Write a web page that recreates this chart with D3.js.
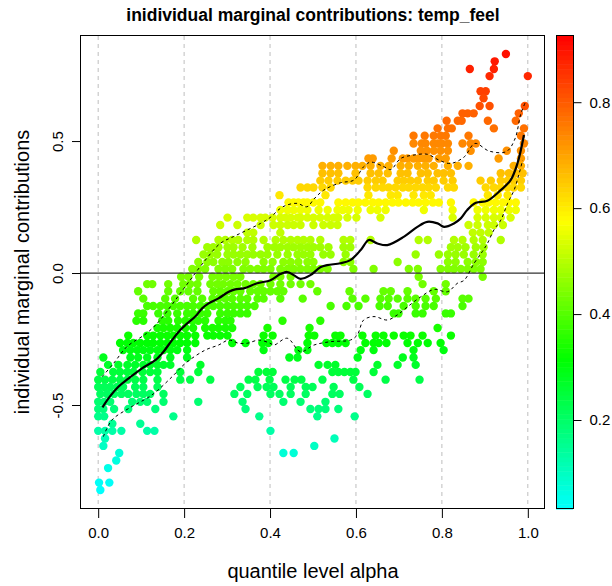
<!DOCTYPE html>
<html>
<head>
<meta charset="utf-8">
<script src="https://d3js.org/d3.v7.min.js"></script>
<style>
body { margin: 0; background: #fff; }
svg { display: block; }
text { font-family: "Liberation Sans", Arial, sans-serif; }
</style>
</head>
<body>
<div id="chart-area"></div>
<script>
// tick labels
var xTicks = [0, 0.2, 0.4, 0.6, 0.8, 1.0];
var yTicks = [-0.5, 0, 0.5];
var colorTicks = [0.2, 0.4, 0.6, 0.8];

// scatter, one entry per contribution level: value, temp_feel, alphas
var rowContrib = [0.830, 0.802, 0.773, 0.746, 0.689, 0.662, 0.633, 0.605, 0.577, 0.548,
	0.520, 0.491, 0.463, 0.434, 0.406, 0.378, 0.350, 0.324, 0.295, 0.267,
	0.239, 0.210, 0.182, 0.153, 0.125, 0.098, 0.070, 0.042, 0.015, -0.014,
	-0.042, -0.069, -0.097, -0.125, -0.153, -0.181, -0.208, -0.237, -0.265, -0.292,
	-0.320, -0.348, -0.375, -0.404, -0.432, -0.458, -0.488, -0.515, -0.543, -0.571,
	-0.598, -0.627, -0.655, -0.682, -0.710, -0.739, -0.794, -0.822];

var rowTemp = [0.903, 0.892, 0.880, 0.870, 0.837, 0.826, 0.815, 0.793, 0.782, 0.771,
	0.760, 0.738, 0.727, 0.711, 0.683, 0.662, 0.645, 0.628, 0.606, 0.583,
	0.560, 0.535, 0.523, 0.511, 0.495, 0.478, 0.470, 0.458, 0.445, 0.437,
	0.429, 0.417, 0.405, 0.388, 0.372, 0.356, 0.339, 0.325, 0.312, 0.298,
	0.284, 0.268, 0.252, 0.236, 0.219, 0.208, 0.191, 0.180, 0.162, 0.150,
	0.130, 0.110, 0.098, 0.078, 0.068, 0.058, 0.040, 0.035];

var rowAlpha = [
	[0.949],
	[0.923],
	[0.865, 0.921],
	[0.911, 1.000],
	[0.890, 0.902],
	[0.897],
	[0.888, 0.911, 0.993],
	[0.848, 0.860, 0.874, 0.979],
	[0.811, 0.837, 0.846, 0.907, 0.972],
	[0.790, 0.814, 0.823, 0.921, 0.991],
	[0.734, 0.760, 0.781, 0.797, 0.809, 0.862, 0.984],
	[0.734, 0.753, 0.762, 0.781, 0.790, 0.800, 0.814, 0.848, 0.867, 0.879, 0.991],
	[0.688, 0.751, 0.765, 0.781, 0.797, 0.814, 0.867, 0.951, 0.984],
	[0.629, 0.639, 0.683, 0.709, 0.720, 0.734, 0.746, 0.758, 0.769, 0.793, 0.809, 0.932, 0.984],
	[0.522, 0.541, 0.559, 0.580, 0.599, 0.615, 0.634, 0.657, 0.676, 0.704, 0.723, 0.744, 0.762, 0.781, 0.814, 0.837, 0.862, 0.967, 0.984],
	[0.522, 0.541, 0.559, 0.599, 0.634, 0.653, 0.674, 0.704, 0.720, 0.751, 0.767, 0.790, 0.804, 0.821, 0.937, 0.956, 0.972, 0.988],
	[0.517, 0.536, 0.557, 0.576, 0.592, 0.606, 0.627, 0.646, 0.662, 0.697, 0.711, 0.727, 0.744, 0.767, 0.781, 0.804, 0.825, 0.890, 0.914, 0.937, 0.953, 0.967, 0.984],
	[0.471, 0.487, 0.501, 0.522, 0.541, 0.627, 0.646, 0.662, 0.676, 0.692, 0.709, 0.723, 0.739, 0.755, 0.769, 0.786, 0.814, 0.828, 0.902, 0.921, 0.937, 0.953, 0.967, 0.984],
	[0.422, 0.529, 0.629, 0.681, 0.697, 0.734, 0.758, 0.774, 0.907, 0.930, 0.953],
	[0.443, 0.455, 0.466, 0.478, 0.487, 0.501, 0.517, 0.559, 0.576, 0.592, 0.606, 0.622, 0.639, 0.653, 0.669, 0.685, 0.699, 0.716, 0.732, 0.746, 0.762, 0.779, 0.793, 0.821, 0.874, 0.895, 0.909, 0.925, 0.942, 0.956, 0.972],
	[0.424, 0.441, 0.455, 0.471, 0.487, 0.513, 0.534, 0.557, 0.569, 0.583, 0.604, 0.634, 0.650, 0.669, 0.758, 0.825, 0.883, 0.902, 0.921, 0.937, 0.956, 0.972],
	[0.301, 0.347, 0.361, 0.378, 0.389, 0.406, 0.424, 0.436, 0.448, 0.464, 0.471, 0.487, 0.501, 0.517, 0.534, 0.548, 0.559, 0.580, 0.601, 0.657, 0.825, 0.883, 0.902, 0.921, 0.937, 0.960],
	[0.284, 0.324, 0.378, 0.408, 0.424, 0.441, 0.455, 0.471, 0.501, 0.524, 0.541, 0.557, 0.862, 0.883, 0.907, 0.921, 0.942],
	[0.347, 0.361, 0.424, 0.872, 0.890, 0.909],
	[0.228, 0.280, 0.296, 0.312, 0.326, 0.347, 0.361, 0.385, 0.413, 0.431, 0.448, 0.464, 0.478, 0.494, 0.517, 0.571, 0.587, 0.634, 0.746, 0.767, 0.828, 0.848, 0.874, 0.895, 0.937],
	[0.254, 0.268, 0.280, 0.301, 0.315, 0.336, 0.359, 0.394, 0.410, 0.424, 0.441, 0.455, 0.471, 0.487, 0.501, 0.517, 0.536, 0.571, 0.587, 0.821, 0.837, 0.855, 0.879, 0.897],
	[0.245, 0.261, 0.277, 0.301, 0.315, 0.331, 0.347, 0.361, 0.378, 0.394, 0.417, 0.441, 0.464, 0.478, 0.494, 0.524, 0.541, 0.576, 0.739, 0.793, 0.814, 0.832, 0.851, 0.874, 0.895],
	[0.233, 0.254, 0.268, 0.289, 0.303, 0.324, 0.343, 0.385, 0.406, 0.431, 0.448, 0.466, 0.487, 0.501, 0.571, 0.587, 0.697, 0.814, 0.832, 0.860, 0.879, 0.895],
	[0.219, 0.233, 0.249, 0.280, 0.296, 0.312, 0.338, 0.354, 0.371, 0.385, 0.401, 0.424, 0.441, 0.455, 0.471, 0.487, 0.501, 0.517, 0.534, 0.594, 0.641, 0.723, 0.744, 0.797, 0.814, 0.828, 0.844, 0.860, 0.874, 0.890],
	[0.193, 0.210, 0.235, 0.266, 0.282, 0.298, 0.315, 0.331, 0.408, 0.424, 0.448, 0.746, 0.895],
	[0.114, 0.126, 0.163, 0.198, 0.214, 0.231, 0.261, 0.277, 0.291, 0.308, 0.324, 0.343, 0.361, 0.378, 0.401, 0.424, 0.448, 0.471, 0.494, 0.755, 0.809],
	[0.093, 0.163, 0.191, 0.210, 0.231, 0.268, 0.284, 0.301, 0.315, 0.331, 0.354, 0.371, 0.385, 0.401, 0.417, 0.431, 0.510, 0.585, 0.664, 0.681, 0.720, 0.781, 0.809],
	[0.105, 0.156, 0.179, 0.221, 0.242, 0.266, 0.280, 0.296, 0.312, 0.331, 0.347, 0.371, 0.385, 0.424, 0.476, 0.592, 0.622, 0.657, 0.676, 0.697, 0.720, 0.739, 0.762, 0.786, 0.848, 0.862],
	[0.114, 0.128, 0.145, 0.161, 0.175, 0.191, 0.207, 0.221, 0.238, 0.254, 0.268, 0.284, 0.301, 0.315, 0.331, 0.347, 0.364, 0.541, 0.578, 0.606, 0.655, 0.674, 0.711, 0.739, 0.762, 0.781, 0.848],
	[0.093, 0.105, 0.140, 0.161, 0.184, 0.207, 0.221, 0.238, 0.254, 0.284, 0.301, 0.315, 0.331, 0.347, 0.688, 0.699, 0.739, 0.755, 0.809, 0.821],
	[0.089, 0.105, 0.149, 0.163, 0.186, 0.203, 0.219, 0.233, 0.249, 0.280, 0.296, 0.308, 0.429, 0.517],
	[0.138, 0.152, 0.168, 0.184, 0.203, 0.221, 0.249, 0.266, 0.280, 0.296, 0.312, 0.394, 0.492, 0.790],
	[0.070, 0.114, 0.128, 0.145, 0.161, 0.175, 0.191, 0.207, 0.226, 0.254, 0.268, 0.284, 0.301, 0.385, 0.406, 0.490, 0.503, 0.552, 0.564, 0.615, 0.646, 0.664, 0.688, 0.711, 0.727, 0.755, 0.821],
	[0.051, 0.068, 0.082, 0.098, 0.114, 0.128, 0.145, 0.161, 0.175, 0.191, 0.207, 0.226, 0.312, 0.343, 0.382, 0.396, 0.487, 0.531, 0.545, 0.559, 0.576, 0.622, 0.641, 0.653, 0.671, 0.720, 0.744, 0.767, 0.797],
	[0.058, 0.075, 0.091, 0.105, 0.121, 0.138, 0.152, 0.168, 0.184, 0.207, 0.385, 0.466, 0.487, 0.611, 0.641, 0.734, 0.804],
	[0.012, 0.075, 0.093, 0.114, 0.138, 0.168, 0.207, 0.445, 0.464, 0.604, 0.709, 0.734],
	[0.023, 0.047, 0.068, 0.086, 0.105, 0.121, 0.138, 0.152, 0.168, 0.238, 0.513, 0.534, 0.552, 0.650, 0.697, 0.739],
	[0.005, 0.035, 0.051, 0.068, 0.082, 0.103, 0.121, 0.138, 0.191, 0.233, 0.373, 0.392, 0.406, 0.545, 0.559, 0.573, 0.587, 0.599, 0.641],
	[0.000, 0.016, 0.033, 0.051, 0.068, 0.086, 0.105, 0.138, 0.191, 0.214, 0.261, 0.350, 0.366, 0.399, 0.436, 0.457, 0.473, 0.522, 0.594, 0.669, 0.748],
	[0.000, 0.014, 0.028, 0.044, 0.058, 0.086, 0.105, 0.138, 0.331, 0.371, 0.392, 0.408, 0.448, 0.483, 0.499, 0.548, 0.608],
	[0.005, 0.021, 0.037, 0.054, 0.070, 0.089, 0.105, 0.121, 0.152, 0.317, 0.347, 0.401, 0.422, 0.448, 0.483, 0.545, 0.562, 0.627],
	[0.000, 0.014, 0.028, 0.079, 0.098, 0.114, 0.152, 0.233, 0.336, 0.431, 0.471, 0.529],
	[0.000, 0.012, 0.037, 0.070, 0.133, 0.343, 0.494, 0.513, 0.529, 0.559],
	[0.000, 0.014, 0.175, 0.375, 0.510, 0.597],
	[0.033, 0.098],
	[0.000, 0.016, 0.033, 0.054, 0.114, 0.131, 0.401],
	[0.016, 0.550],
	[0.012, 0.503],
	[0.049, 0.431, 0.455],
	[0.042],
	[0.023],
	[0.002, 0.026],
	[0.005]
];

// smoothed mean and the two band lines
var meanAlpha = [0.010, 0.024, 0.047, 0.071, 0.102, 0.133, 0.152, 0.172, 0.191, 0.203,
	0.226, 0.242, 0.257, 0.280, 0.304, 0.319, 0.339, 0.370, 0.401, 0.424,
	0.440, 0.455, 0.471, 0.494, 0.517, 0.533, 0.564, 0.587, 0.611, 0.630,
	0.650, 0.673, 0.712, 0.743, 0.766, 0.790, 0.805, 0.828, 0.844, 0.859,
	0.879, 0.906, 0.937, 0.960, 0.976, 0.991];
var meanValue = [-0.509, -0.475, -0.431, -0.399, -0.361, -0.330, -0.298, -0.254, -0.216, -0.197,
	-0.165, -0.134, -0.115, -0.096, -0.071, -0.062, -0.058, -0.039, -0.027, -0.004,
	0.004, -0.008, -0.022, -0.008, 0.022, 0.030, 0.037, 0.049, 0.087, 0.125,
	0.112, 0.106, 0.138, 0.175, 0.194, 0.188, 0.175, 0.188, 0.207, 0.239,
	0.266, 0.274, 0.314, 0.352, 0.416, 0.523];

var upperAlpha = [0.009, 0.036, 0.067, 0.113, 0.141, 0.168, 0.191, 0.214, 0.245, 0.284,
	0.315, 0.347, 0.378, 0.400, 0.424, 0.440, 0.463, 0.486, 0.502, 0.525,
	0.564, 0.595, 0.618, 0.634, 0.665, 0.681, 0.704, 0.735, 0.766, 0.793,
	0.820, 0.852, 0.877, 0.910, 0.950, 0.970, 0.984, 0.995];
var upperValue = [-0.393, -0.342, -0.279, -0.228, -0.184, -0.128, -0.077, -0.027, 0.040, 0.112,
	0.138, 0.163, 0.188, 0.210, 0.245, 0.258, 0.264, 0.251, 0.280, 0.314,
	0.342, 0.352, 0.403, 0.420, 0.403, 0.392, 0.434, 0.447, 0.450, 0.428,
	0.415, 0.440, 0.491, 0.462, 0.460, 0.508, 0.605, 0.649];

var lowerAlpha = [0.012, 0.032, 0.071, 0.125, 0.172, 0.203, 0.249, 0.280, 0.304, 0.327,
	0.347, 0.374, 0.400, 0.409, 0.440, 0.471, 0.502, 0.541, 0.587, 0.603,
	0.618, 0.642, 0.673, 0.696, 0.720, 0.751, 0.782, 0.813, 0.836, 0.852,
	0.875, 0.894, 0.906, 0.921, 0.937, 0.953, 0.968, 0.980, 0.988];
var lowerValue = [-0.620, -0.557, -0.513, -0.462, -0.393, -0.342, -0.292, -0.273, -0.254, -0.266,
	-0.266, -0.254, -0.266, -0.273, -0.247, -0.298, -0.273, -0.260, -0.254, -0.235,
	-0.178, -0.165, -0.178, -0.159, -0.128, -0.090, -0.062, -0.071, -0.039, -0.027,
	0.037, 0.081, 0.112, 0.163, 0.200, 0.264, 0.314, 0.378, 0.428];

var tempRange = [0.032, 0.925];

var svg = d3.select("#chart-area")
	.append("svg")
	.attr("width", 612)
	.attr("height", 586);

var x = d3.scaleLinear().domain([-0.04, 1.04]).range([81, 545]);
var y = d3.scaleLinear().domain([-0.894, 0.898]).range([509, 36]);
var colorY = d3.scaleLinear().domain(tempRange).range([509, 36]);
var color = d3.scaleLinear()
	.domain([tempRange[0], 0.315, 0.575, tempRange[1]])
	.range(["#00ffff", "#00ff00", "#ffff00", "#ff0000"]);

// grid
svg.append("g")
	.selectAll("line")
	.data(xTicks)
	.enter()
	.append("line")
	.attr("x1", d => x(d))
	.attr("x2", d => x(d))
	.attr("y1", 36)
	.attr("y2", 509)
	.attr("stroke", "#bebebe")
	.attr("stroke-width", 1)
	.attr("stroke-dasharray", "4,4");

// points
var points = [];
rowAlpha.forEach((alphas, i) => {
	alphas.forEach(a => {
		points.push({ alpha: a, contrib: rowContrib[i], temp: rowTemp[i] });
	});
});

svg.append("g")
	.selectAll("circle")
	.data(points)
	.enter()
	.append("circle")
	.attr("cx", d => x(d.alpha))
	.attr("cy", d => y(d.contrib))
	.attr("r", 4.2)
	.attr("fill", d => color(d.temp));

// zero line
svg.append("line")
	.attr("x1", 81)
	.attr("x2", 545)
	.attr("y1", y(0))
	.attr("y2", y(0))
	.attr("stroke", "#333")
	.attr("stroke-width", 1.2);

function curveData(as, vs) {
	return as.map((a, i) => [a, vs[i]]);
}

var line = d3.line()
	.x(d => x(d[0]))
	.y(d => y(d[1]))
	.curve(d3.curveCatmullRom);

svg.append("path")
	.attr("d", line(curveData(upperAlpha, upperValue)))
	.attr("fill", "none")
	.attr("stroke", "#000")
	.attr("stroke-width", 1)
	.attr("stroke-dasharray", "3,3");

svg.append("path")
	.attr("d", line(curveData(lowerAlpha, lowerValue)))
	.attr("fill", "none")
	.attr("stroke", "#000")
	.attr("stroke-width", 1)
	.attr("stroke-dasharray", "3,3");

svg.append("path")
	.attr("d", line(curveData(meanAlpha, meanValue)))
	.attr("fill", "none")
	.attr("stroke", "#000")
	.attr("stroke-width", 2.2);

// box
svg.append("rect")
	.attr("x", 80.5)
	.attr("y", 35.5)
	.attr("width", 464)
	.attr("height", 473)
	.attr("fill", "none")
	.attr("stroke", "#000");

// axes
var xAxisCall = d3.axisBottom(x)
	.tickValues(xTicks)
	.tickSize(9)
	.tickPadding(9)
	.tickFormat(d => d.toFixed(1));
var xAxisGroup = svg.append("g")
	.attr("transform", "translate(0, 509)")
	.call(xAxisCall);
xAxisGroup.select(".domain").remove();
xAxisGroup.selectAll("text")
	.attr("font-size", "15px")
	.attr("font-family", "Liberation Sans, Arial, sans-serif")
	.attr("fill", "#000");

var yAxisCall = d3.axisLeft(y)
	.tickValues(yTicks)
	.tickSize(9)
	.tickFormat(d => d.toFixed(1));
var yAxisGroup = svg.append("g")
	.attr("transform", "translate(81, 0)")
	.call(yAxisCall);
yAxisGroup.select(".domain").remove();
yAxisGroup.selectAll("text")
	.attr("x", 0)
	.attr("dy", 0)
	.attr("text-anchor", "middle")
	.attr("transform", "translate(-18.5, 0) rotate(-90)")
	.attr("font-size", "15px")
	.attr("font-family", "Liberation Sans, Arial, sans-serif")
	.attr("fill", "#000");

// colour bar
var bands = d3.range(100).map(i => tempRange[0] + (tempRange[1] - tempRange[0]) * i / 100);
var bandH = (tempRange[1] - tempRange[0]) / 100;
svg.append("g")
	.selectAll("rect")
	.data(bands)
	.enter()
	.append("rect")
	.attr("x", 556)
	.attr("width", 17)
	.attr("y", d => colorY(d + bandH))
	.attr("height", d => colorY(d) - colorY(d + bandH) + 0.5)
	.attr("fill", d => color(d + bandH / 2));

svg.append("rect")
	.attr("x", 556.5)
	.attr("y", 35.5)
	.attr("width", 17)
	.attr("height", 473)
	.attr("fill", "none")
	.attr("stroke", "#000");

var cAxisCall = d3.axisRight(colorY)
	.tickValues(colorTicks)
	.tickSize(8)
	.tickPadding(8)
	.tickFormat(d => d.toFixed(1));
var cAxisGroup = svg.append("g")
	.attr("transform", "translate(573.5, 0)")
	.call(cAxisCall);
cAxisGroup.select(".domain").remove();
cAxisGroup.selectAll("text")
	.attr("font-size", "15px")
	.attr("font-family", "Liberation Sans, Arial, sans-serif")
	.attr("fill", "#000");

// labels
svg.append("text")
	.attr("x", 313)
	.attr("y", 21)
	.attr("text-anchor", "middle")
	.attr("font-size", "17.5px")
	.attr("font-weight", "bold")
	.text("inidividual marginal contributions: temp_feel");

svg.append("text")
	.attr("x", 313)
	.attr("y", 578)
	.attr("text-anchor", "middle")
	.attr("font-size", "20px")
	.text("quantile level alpha");

svg.append("text")
	.attr("transform", "translate(29, 272) rotate(-90)")
	.attr("text-anchor", "middle")
	.attr("font-size", "20px")
	.text("individual marginal contributions");
</script>
</body>
</html>
